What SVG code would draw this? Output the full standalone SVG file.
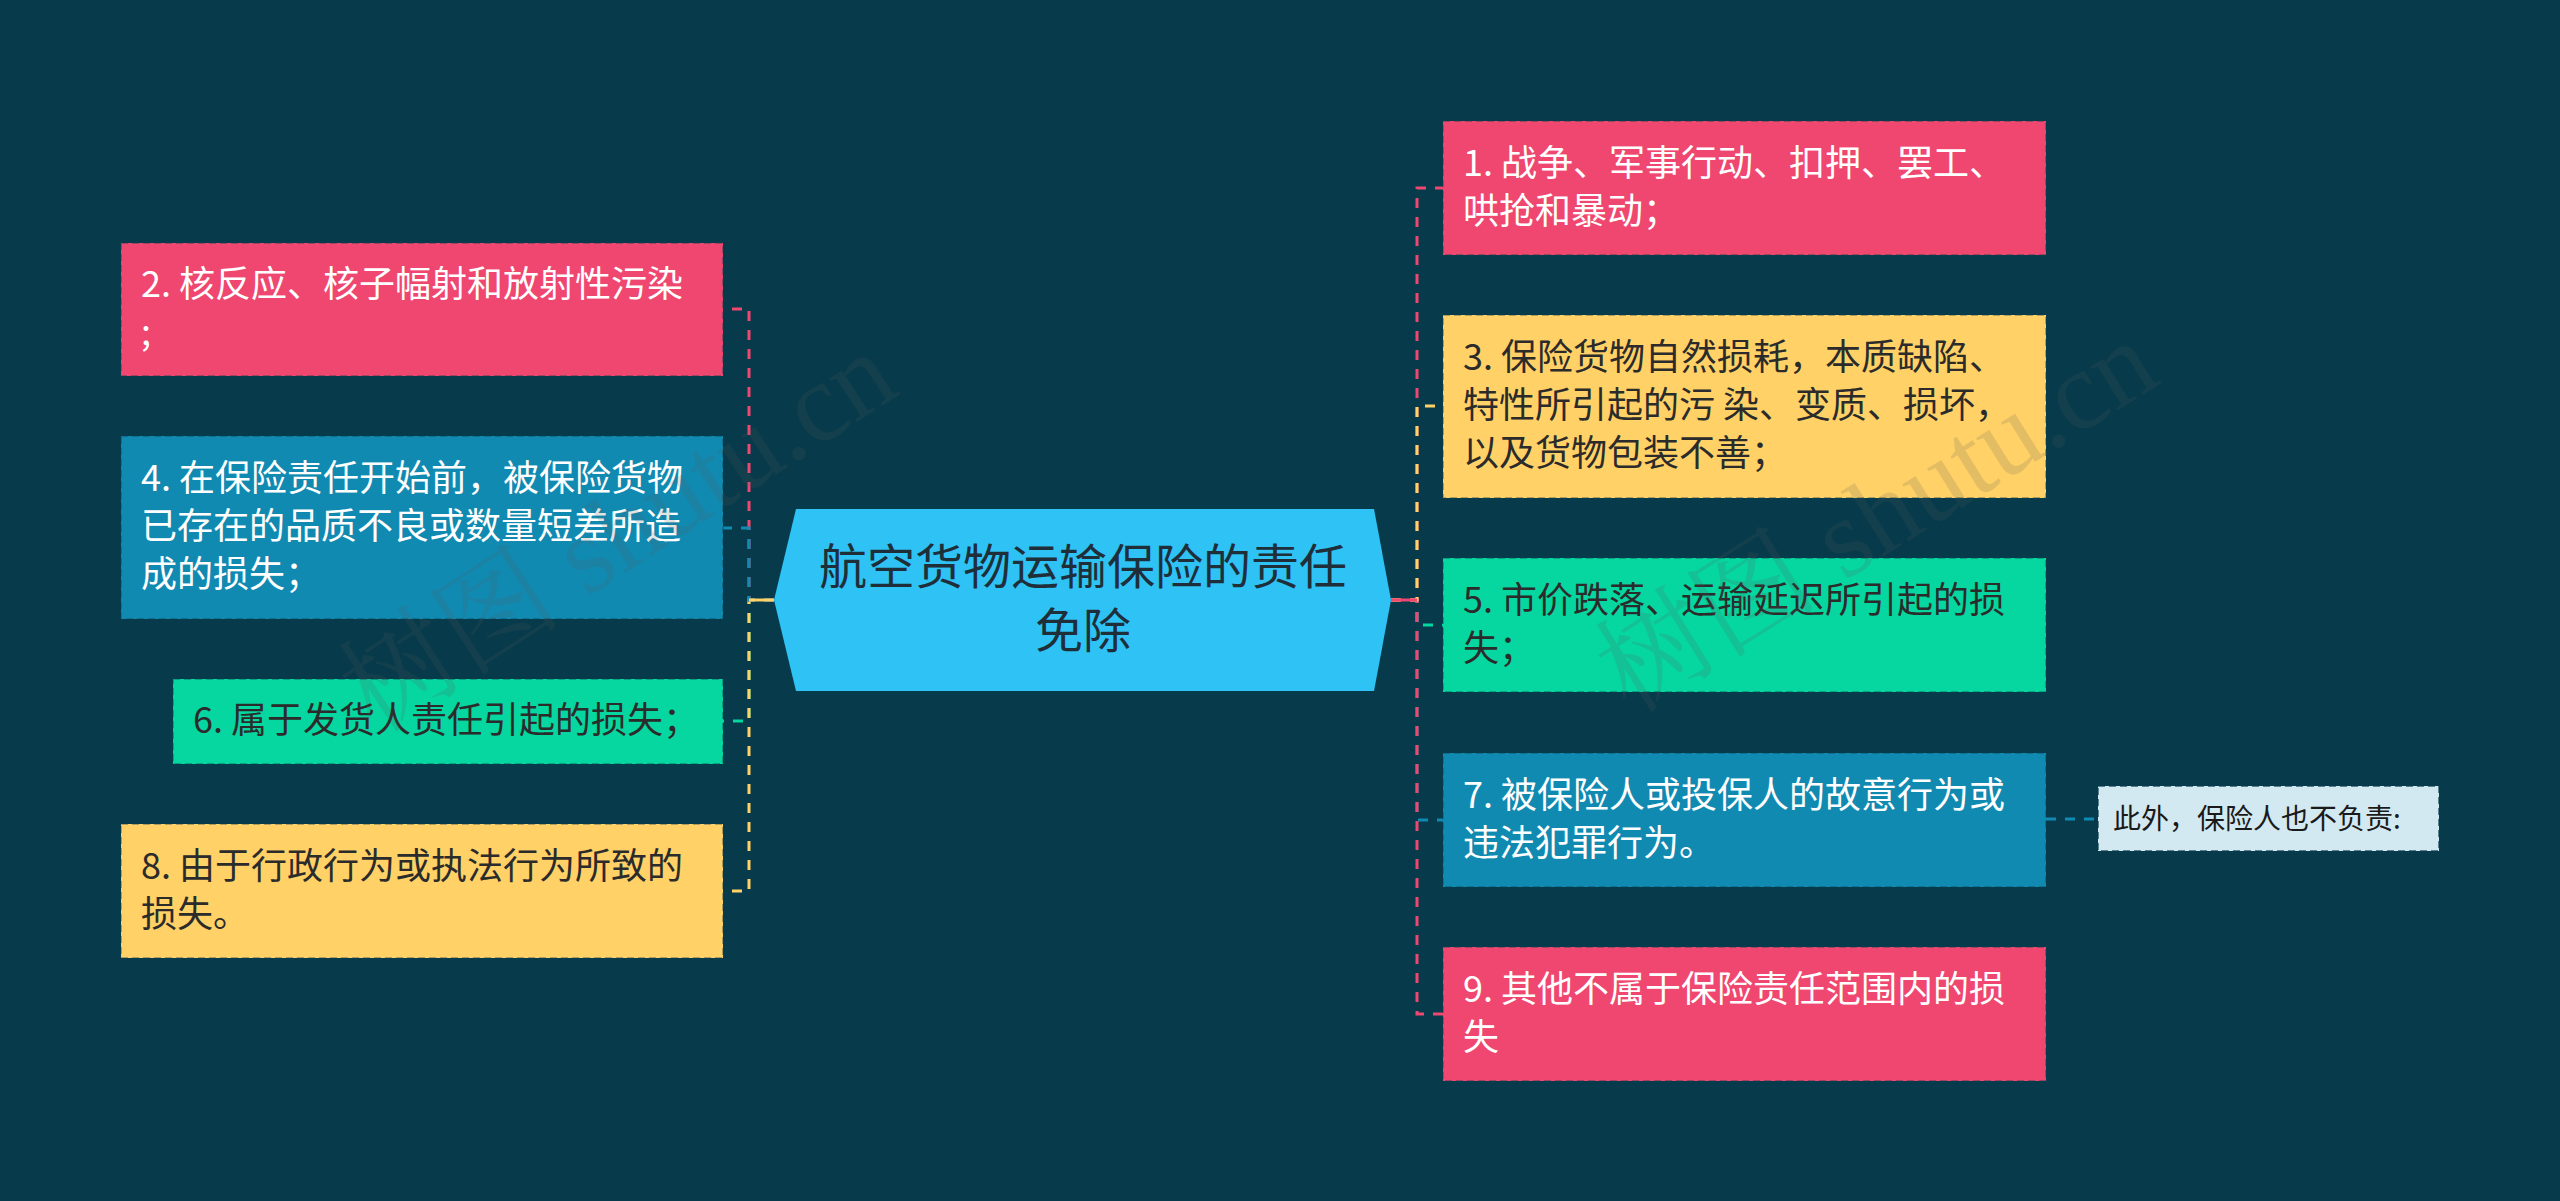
<svg xmlns="http://www.w3.org/2000/svg" width="2560" height="1201" viewBox="0 0 2560 1201">
<style>
.t{font-family:"Noto Sans CJK SC","Noto Sans",sans-serif;font-size:36px}
.w{fill:#ffffff}
.d{fill:#2b2b2b}
.box{stroke:#0b3b4c;stroke-opacity:0.35;stroke-width:2;stroke-dasharray:7 4}
.c{fill:none;stroke-width:3;stroke-dasharray:10 9}
.wm{font-family:"Liberation Serif","Noto Serif CJK SC","Noto Sans CJK SC",serif;font-size:112px;fill:#5a5a5a;opacity:0.16}
</style>
<rect x="0" y="0" width="2560" height="1201" fill="#073B4C"/>
<g id="connectors">
  <path class="c" stroke="#06D6A0" d="M774 600 H749 V721 H723"/>
  <path class="c" stroke="#FFD166" d="M774 600 H749 V891 H723"/>
  <path class="c" stroke="#EF476F" d="M774 600 H749 V309 H723"/>
  <path class="c" stroke="#118AB2" d="M774 600 H749 V528 H723"/>
  <path d="M774 600 H749" stroke="#FFD166" stroke-width="3" fill="none"/>
  <path class="c" stroke="#06D6A0" d="M1391 600 H1417 V625 H1443"/>
  <path class="c" stroke="#118AB2" d="M1391 600 H1417 V820 H1443"/>
  <path class="c" stroke="#EF476F" d="M1391 600 H1417 V1014 H1443"/>
  <path class="c" stroke="#EF476F" d="M1391 600 H1417 V188 H1443"/>
  <path class="c" stroke="#FFD166" d="M1391 600 H1417 V406 H1443"/>
  <path d="M1391 600 H1417" stroke="#EF476F" stroke-width="3" fill="none"/>
  <path class="c" stroke="#118AB2" d="M2046 819 H2098"/>
</g>
<g id="center">
  <polygon points="774,600 796,509 1374,509 1391,600 1374,691 796,691" fill="#2EC3F4"/>
  <text font-family="Noto Sans CJK SC,sans-serif" font-size="48" fill="#1f2f3a" text-anchor="middle"><tspan x="1083" y="584">航空货物运输保险的责任</tspan><tspan x="1083" y="648">免除</tspan></text>
</g>
<g id="n2">
  <rect class="box" x="121" y="243" width="602" height="133" fill="#EF476F"/>
  <text class="t w"><tspan x="141" y="297">2. 核反应、核子幅射和放射性污染</tspan><tspan x="141" y="345">;</tspan></text>
</g>
<g id="n4">
  <rect class="box" x="121" y="436" width="602" height="183" fill="#118AB2"/>
  <text class="t w"><tspan x="141" y="491">4. 在保险责任开始前，被保险货物</tspan><tspan x="141" y="539">已存在的品质不良或数量短差所造</tspan><tspan x="141" y="587">成的损失；</tspan></text>
</g>
<g id="n6">
  <rect class="box" x="173" y="679" width="550" height="85" fill="#06D6A0"/>
  <text class="t d"><tspan x="193" y="733">6. 属于发货人责任引起的损失；</tspan></text>
</g>
<g id="n8">
  <rect class="box" x="121" y="824" width="602" height="134" fill="#FFD166"/>
  <text class="t d"><tspan x="141" y="879">8. 由于行政行为或执法行为所致的</tspan><tspan x="141" y="927">损失。</tspan></text>
</g>
<g id="n1">
  <rect class="box" x="1443" y="121" width="603" height="134" fill="#EF476F"/>
  <text class="t w"><tspan x="1463" y="176">1. 战争、军事行动、扣押、罢工、</tspan><tspan x="1463" y="224">哄抢和暴动；</tspan></text>
</g>
<g id="n3">
  <rect class="box" x="1443" y="315" width="603" height="183" fill="#FFD166"/>
  <text class="t d"><tspan x="1463" y="370">3. 保险货物自然损耗，本质缺陷、</tspan><tspan x="1463" y="418">特性所引起的污 染、变质、损坏，</tspan><tspan x="1463" y="466">以及货物包装不善；</tspan></text>
</g>
<g id="n5">
  <rect class="box" x="1443" y="558" width="603" height="134" fill="#06D6A0"/>
  <text class="t d"><tspan x="1463" y="613">5. 市价跌落、运输延迟所引起的损</tspan><tspan x="1463" y="661">失；</tspan></text>
</g>
<g id="n7">
  <rect class="box" x="1443" y="753" width="603" height="134" fill="#118AB2"/>
  <text class="t w"><tspan x="1463" y="808">7. 被保险人或投保人的故意行为或</tspan><tspan x="1463" y="856">违法犯罪行为。</tspan></text>
</g>
<g id="n9">
  <rect class="box" x="1443" y="947" width="603" height="134" fill="#EF476F"/>
  <text class="t w"><tspan x="1463" y="1002">9. 其他不属于保险责任范围内的损</tspan><tspan x="1463" y="1050">失</tspan></text>
</g>
<g id="n10">
  <rect x="2098" y="786" width="341" height="65" fill="#D3E9F1" stroke="#073B4C" stroke-opacity="0.6" stroke-width="2" stroke-dasharray="7 4"/>
  <text font-family="Noto Sans CJK SC,sans-serif" font-size="28" fill="#1a1a1a"><tspan x="2113" y="829">此外，保险人也不负责:</tspan></text>
</g>
<g id="watermark">
  <text class="wm" transform="translate(375 735) rotate(-33)">树图 shutu.cn</text>
  <text class="wm" transform="translate(1630 715) rotate(-32)">树图 shutu.cn</text>
</g>
</svg>
